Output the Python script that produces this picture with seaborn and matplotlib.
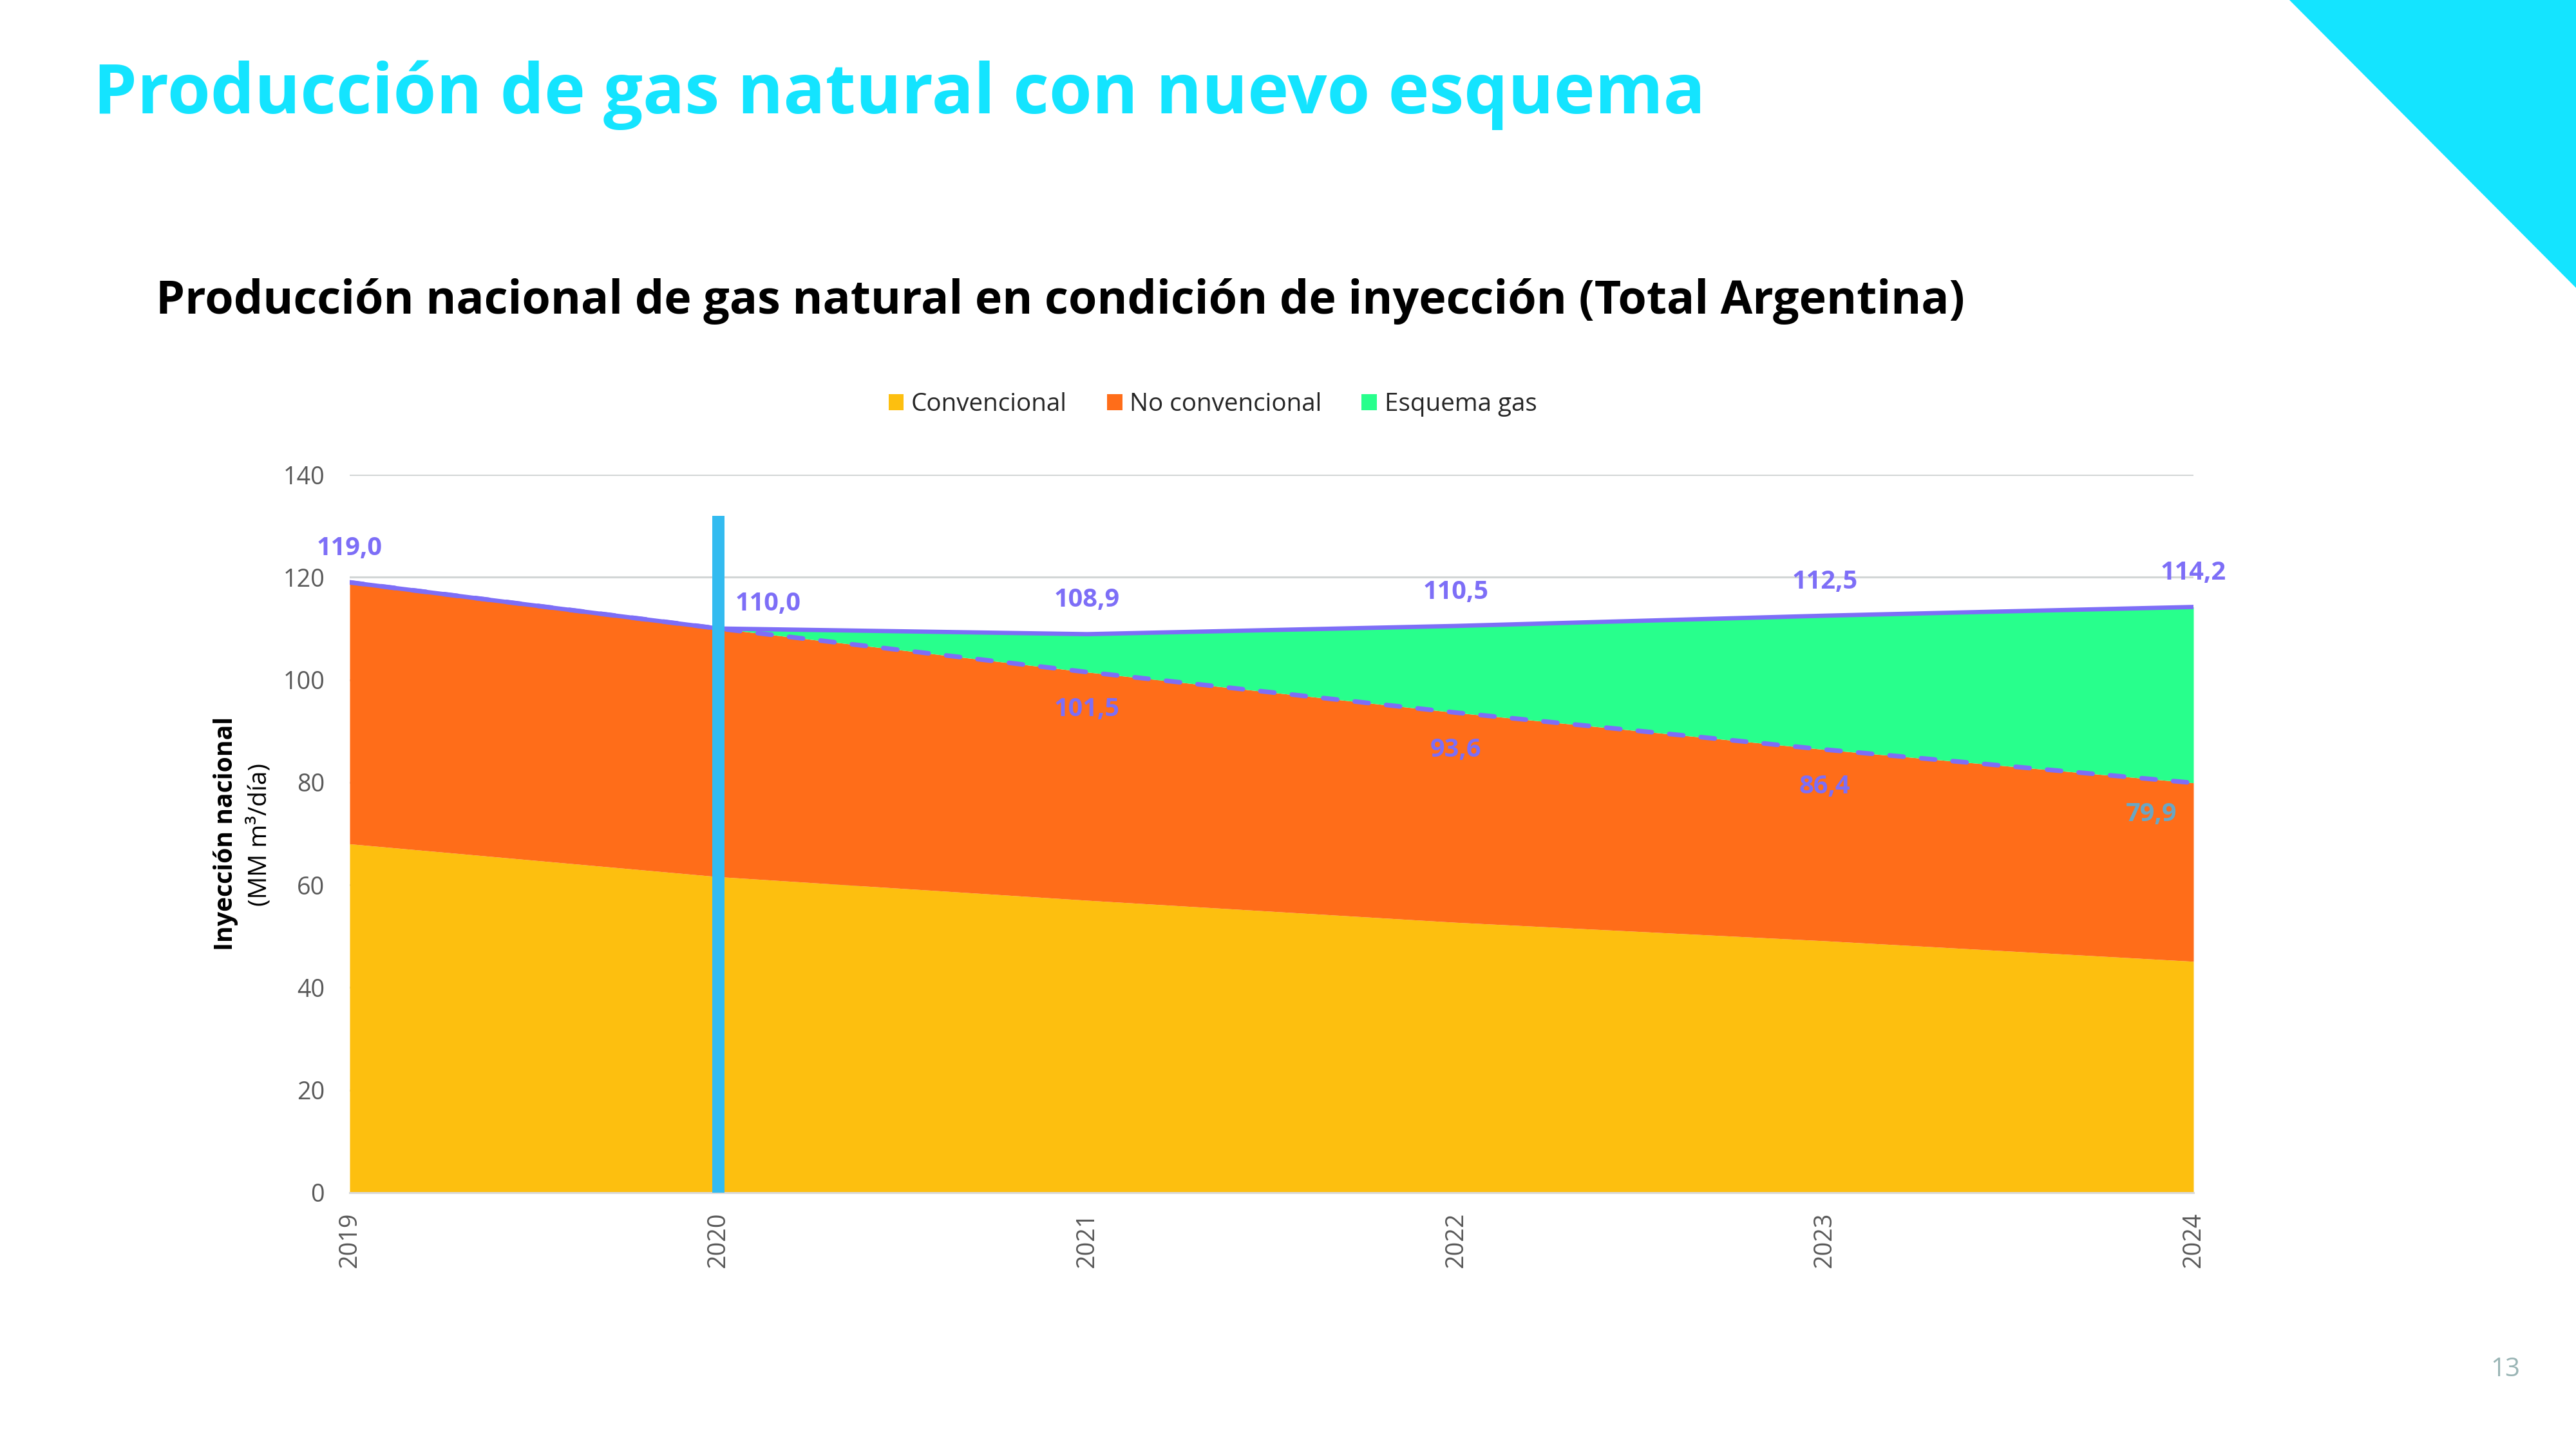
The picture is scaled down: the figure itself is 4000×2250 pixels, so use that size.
import numpy as np
import pandas as pd
import matplotlib
matplotlib.use("Agg")
import matplotlib.pyplot as plt
import seaborn as sns
from matplotlib.patches import Patch, Polygon

# ---------------- data ----------------
years = [2019, 2020, 2021, 2022, 2023, 2024]
convencional = [68.0, 61.6, 57.0, 52.7, 49.1, 45.1]
sin_esquema = [119.0, 110.0, 101.5, 93.6, 86.4, 79.9]      # convencional + no convencional
total = [119.0, 110.0, 108.9, 110.5, 112.5, 114.2]         # con esquema gas
no_convencional = [s - c for s, c in zip(sin_esquema, convencional)]
esquema_gas = [t - s for t, s in zip(total, sin_esquema)]
series_names = ["Convencional", "No convencional", "Esquema gas"]
total_labels = ["119,0", "110,0", "108,9", "110,5", "112,5", "114,2"]
base_label_years = [2021, 2022, 2023, 2024]
base_labels = ["101,5", "93,6", "86,4", "79,9"]
marker_year = [2020]
marker_top = [132]
y_ticks = [0, 20, 40, 60, 80, 100, 120, 140]

# ---------------- style ----------------
sns.set_theme(style="white")
plt.rcParams["font.family"] = ["Open Sans", "DejaVu Sans"]

C_YEL = "#FDBF0F"
C_ORA = "#FF6D19"
C_GRN = "#28FF8C"
C_PUR = "#7D6EF7"
C_BAR = "#33BBF0"
C_CYAN = "#14E4FF"
C_TICK = "#595959"

fig = plt.figure(figsize=(20, 11.25), dpi=200)
W, H = 4000, 2250
ax = fig.add_axes([543 / W, 1 - 1852 / H, (3406 - 543) / W, (1852 - 737) / H])

c1 = np.array(convencional)
c2 = c1 + np.array(no_convencional)
c3 = c2 + np.array(esquema_gas)
ax.fill_between(years, 0, c1, color=C_YEL, lw=0, zorder=2)
ax.fill_between(years, c1, c2, color=C_ORA, lw=0, zorder=2)
ax.fill_between(years, c2, c3, color=C_GRN, lw=0, zorder=2)

df = pd.DataFrame({"year": years, "total": total, "base": sin_esquema})
sns.lineplot(data=df, x="year", y="base", ax=ax, color=C_PUR, lw=2.6,
             linestyle=(0, (3.0, 3.8)), dash_capstyle="round", zorder=4)
sns.lineplot(data=df, x="year", y="total", ax=ax, color=C_PUR, lw=2.4,
             solid_capstyle="round", zorder=4)

# marker bar (current year)
ax.bar(marker_year, marker_top, width=0.033, color=C_BAR, zorder=5, lw=0)

# data labels
for i, (yr, v, lab) in enumerate(zip(years, total, total_labels)):
    if yr == 2020:
        ax.annotate(lab, (yr, v), xytext=(9.4, 13.7), textcoords="offset points",
                    ha="left", va="center", color=C_PUR, fontsize=14.3, fontweight="bold", zorder=6)
    else:
        ax.annotate(lab, (yr, v), xytext=(0, 19), textcoords="offset points",
                    ha="center", va="center", color=C_PUR, fontsize=14.3, fontweight="bold", zorder=6)

for yr, lab in zip(base_label_years, base_labels):
    v = sin_esquema[years.index(yr)]
    if yr == 2024:
        ax.annotate(lab, (yr, v), xytext=(-9.4, -17.5), textcoords="offset points",
                    ha="right", va="center", color="#6AA6C4", fontsize=14.3, fontweight="bold", zorder=6)
    else:
        ax.annotate(lab, (yr, v), xytext=(0, -20.8), textcoords="offset points",
                    ha="center", va="center", color=C_PUR, fontsize=14.3, fontweight="bold", zorder=6)

# axes styling
ax.set_xlim(2019, 2024)
ax.set_ylim(0, 140)
ax.set_yticks(y_ticks)
ax.set_xticks(years)
ax.set_xticklabels([str(y) for y in years])
ax.set_xlabel("")
ax.set_ylabel("")
ax.yaxis.grid(True, color="#D2D6D6", lw=1.1)
ax.xaxis.grid(False)
ax.set_axisbelow(True)
for s in ["left", "right", "top"]:
    ax.spines[s].set_visible(False)
ax.spines["bottom"].set_color("#D9D9D9")
ax.spines["bottom"].set_linewidth(1.1)
ax.tick_params(axis="both", length=0, labelsize=13.6, labelcolor=C_TICK)
ax.tick_params(axis="y", pad=14)
ax.tick_params(axis="x", pad=11, labelrotation=90)
ax.patch.set_alpha(0)

renderer = fig.canvas.get_renderer()

def fit_w(t, target):
    w = t.get_window_extent(renderer).width
    t.set_fontsize(t.get_fontsize() * target / w)

def fit_h(t, target):
    h = t.get_window_extent(renderer).height
    t.set_fontsize(t.get_fontsize() * target / h)

# y label (two lines)
yl1 = fig.text(350 / W, 1 - 1294 / H, "Inyección nacional", rotation=90, fontweight="bold",
               ha="center", va="center", fontsize=14, color="black")
fit_h(yl1, 362)
yl2 = fig.text(403 / W, 1 - 1296 / H, "(MM m³/día)", rotation=90,
               ha="center", va="center", fontsize=14, color="black")
fit_h(yl2, 222)

# titles
t1 = fig.text(145 / W, 1 - 176 / H, "Producción de gas natural con nuevo esquema",
              color=C_CYAN, fontsize=38, fontweight="bold", ha="left", va="baseline")
fit_w(t1, 2500)
t2 = fig.text(242 / W, 1 - 487 / H,
              "Producción nacional de gas natural en condición de inyección (Total Argentina)",
              color="black", fontsize=21, fontweight="bold", ha="left", va="baseline")
fit_w(t2, 2812)

# legend
handles = [Patch(facecolor=c, edgecolor="none", label=n)
           for c, n in zip([C_YEL, C_ORA, C_GRN], series_names)]
fig.legend(handles=handles, loc="center", bbox_to_anchor=(1883 / W, 1 - 628 / H), ncol=3,
           frameon=False, fontsize=13.9, handlelength=0.62, handleheight=0.62,
           handletextpad=0.3, columnspacing=1.6, borderaxespad=0)

# decorative triangle top-right
fig.patches.append(Polygon([[3555 / W, 1], [1, 1], [1, 1 - 447 / H]], closed=True,
                           transform=fig.transFigure, facecolor=C_CYAN, edgecolor="none"))

# page number
fig.text(3890 / W, 1 - 2127 / H, "13", color="#9AB5B5", fontsize=14.5, ha="center", va="center")

fig.savefig("out.png", dpi=200, facecolor="white")
